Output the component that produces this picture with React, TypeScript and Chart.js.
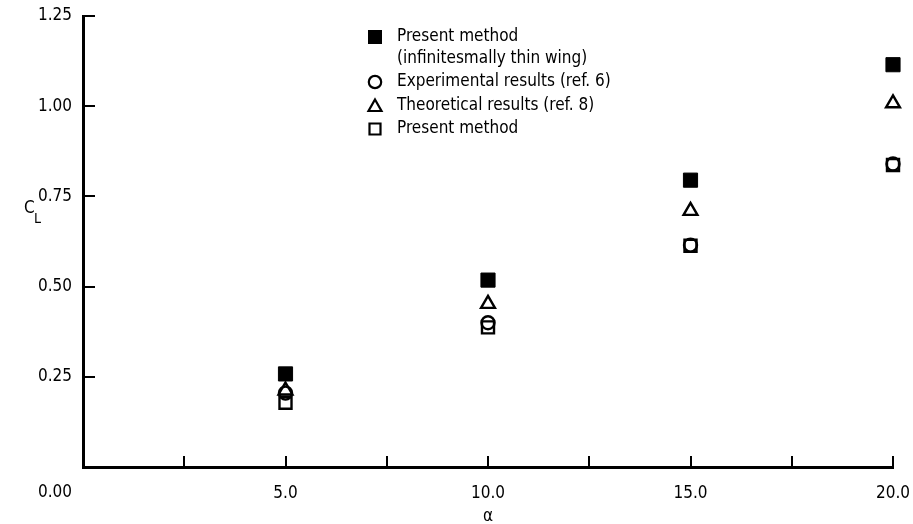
import { useEffect, useRef } from "react";
import { Chart, registerables } from "chart.js";

Chart.register(...registerables);

// ---- data ----
const alphaValues = [5, 10, 15, 20];
const presentThin = [0.258, 0.518, 0.795, 1.115];
const experimental = [0.205, 0.4, 0.615, 0.84];
const theoretical = [0.212, 0.452, 0.71, 1.008];
const presentMethod = [0.178, 0.387, 0.613, 0.837];

const xTickValues = [5, 10, 15, 20];
const xTickLabels = ["5.0", "10.0", "15.0", "20.0"];
const xMinorTicks = [2.5, 5, 7.5, 10, 12.5, 15, 17.5, 20];
const yTickValues = [0.25, 0.5, 0.75, 1.0, 1.25];
const yTickLabels = ["0.25", "0.50", "0.75", "1.00", "1.25"];
const originLabel = "0.00";

const legendEntries = [
  { style: "filledRect", lines: ["Present method", "(infinitesmally thin wing)"] },
  { style: "circle", lines: ["Experimental results (ref. 6)"] },
  { style: "triangle", lines: ["Theoretical results (ref. 8)"] },
  { style: "openRect", lines: ["Present method"] },
];

const FONT = "'DejaVu Sans Condensed', 'Liberation Sans Narrow', 'DejaVu Sans', sans-serif";

function drawMarker(ctx: CanvasRenderingContext2D, style: string, x: number, y: number) {
  ctx.save();
  ctx.strokeStyle = "#000";
  ctx.fillStyle = "#000";
  ctx.lineWidth = 2.2;
  ctx.beginPath();
  if (style === "filledRect") {
    ctx.rect(x - 7, y - 7, 14, 14);
    ctx.fill();
  } else if (style === "openRect") {
    ctx.rect(x - 5.5, y - 5.5, 11, 11);
    ctx.stroke();
  } else if (style === "circle") {
    ctx.arc(x, y, 6.2, 0, Math.PI * 2);
    ctx.stroke();
  } else if (style === "triangle") {
    ctx.moveTo(x, y - 6.5);
    ctx.lineTo(x + 6.5, y + 5);
    ctx.lineTo(x - 6.5, y + 5);
    ctx.closePath();
    ctx.stroke();
  }
  ctx.restore();
}

const decorPlugin = {
  id: "decor",
  afterDraw(chart: any) {
    const ctx: CanvasRenderingContext2D = chart.ctx;
    const xs = chart.scales.x;
    const ys = chart.scales.y;
    const area = chart.chartArea;
    ctx.save();
    ctx.strokeStyle = "#000";
    ctx.lineWidth = 2;
    // inward x ticks
    xMinorTicks.forEach((v) => {
      const px = Math.round(xs.getPixelForValue(v));
      ctx.beginPath();
      ctx.moveTo(px, area.bottom);
      ctx.lineTo(px, area.bottom - 11);
      ctx.stroke();
    });
    // inward y ticks
    yTickValues.forEach((v) => {
      const py = Math.round(ys.getPixelForValue(v));
      ctx.beginPath();
      ctx.moveTo(area.left, py);
      ctx.lineTo(area.left + 12, py);
      ctx.stroke();
    });
    // origin label
    ctx.fillStyle = "#000";
    ctx.font = `17px ${FONT}`;
    ctx.textAlign = "right";
    ctx.textBaseline = "middle";
    ctx.fillText(originLabel, area.left - 11, area.bottom + 26);
    // axis titles
    ctx.textAlign = "left";
    ctx.font = `17px ${FONT}`;
    ctx.fillText("C", 24, 209);
    ctx.font = `14px ${FONT}`;
    ctx.fillText("L", 34, 219);
    ctx.textAlign = "center";
    ctx.font = `17px ${FONT}`;
    ctx.fillText("α", xs.getPixelForValue(10), 517);
    // legend
    const lineYs = [[37, 59], [82], [106], [129]];
    legendEntries.forEach((e, i) => {
      drawMarker(ctx, e.style, 375, lineYs[i][0]);
      ctx.textAlign = "left";
      ctx.font = `17px ${FONT}`;
      e.lines.forEach((t, j) => {
        ctx.fillText(t, 397, lineYs[i][j]);
      });
    });
    ctx.restore();
  },
};

export default function App() {
  const ref = useRef<HTMLCanvasElement | null>(null);
  useEffect(() => {
    if (!ref.current) return;
    const mk = (data: number[]) => alphaValues.map((a, i) => ({ x: a, y: data[i] }));
    const chart = new Chart(ref.current, {
      type: "scatter",
      data: {
        datasets: [
          {
            label: "Present method (infinitesmally thin wing)",
            data: mk(presentThin),
            pointStyle: "rect",
            pointRadius: 10,
            backgroundColor: "#000",
            borderColor: "#000",
            borderWidth: 1,
            clip: false,
          },
          {
            label: "Experimental results (ref. 6)",
            data: mk(experimental),
            pointStyle: "circle",
            pointRadius: 6.5,
            backgroundColor: "rgba(0,0,0,0)",
            borderColor: "#000",
            borderWidth: 2.4,
            clip: false,
          },
          {
            label: "Theoretical results (ref. 8)",
            data: mk(theoretical),
            pointStyle: "triangle",
            pointRadius: 8,
            backgroundColor: "rgba(0,0,0,0)",
            borderColor: "#000",
            borderWidth: 2.4,
            clip: false,
          },
          {
            label: "Present method",
            data: mk(presentMethod),
            pointStyle: "rect",
            pointRadius: 8.5,
            backgroundColor: "rgba(0,0,0,0)",
            borderColor: "#000",
            borderWidth: 2.4,
            clip: false,
          },
        ],
      },
      options: {
        responsive: false,
        animation: false,
        layout: { padding: { top: 16, right: 20, left: 0, bottom: 0 } },
        plugins: { legend: { display: false }, tooltip: { enabled: false } },
        scales: {
          x: {
            type: "linear",
            min: 0,
            max: 20,
            afterFit: (s: any) => {
              s.height = 57;
              s.paddingLeft = 0;
              s.paddingRight = 0;
            },
            afterBuildTicks: (s: any) => {
              s.ticks = xTickValues.map((v) => ({ value: v }));
            },
            grid: { display: false, drawTicks: false },
            border: { display: true, color: "#000", width: 3 },
            ticks: {
              padding: 16,
              color: "#000",
              font: { family: FONT, size: 17 },
              callback: (v: any) => {
                const i = xTickValues.indexOf(Number(v));
                return i >= 0 ? xTickLabels[i] : "";
              },
            },
          },
          y: {
            type: "linear",
            min: 0,
            max: 1.25,
            afterFit: (s: any) => {
              s.width = 83;
              s.paddingTop = 0;
              s.paddingBottom = 0;
            },
            afterBuildTicks: (s: any) => {
              s.ticks = yTickValues.map((v) => ({ value: v }));
            },
            grid: { display: false, drawTicks: false },
            border: { display: true, color: "#000", width: 3 },
            ticks: {
              padding: 11,
              color: "#000",
              font: { family: FONT, size: 17 },
              callback: (v: any) => {
                const i = yTickValues.findIndex((t) => Math.abs(t - Number(v)) < 1e-9);
                return i >= 0 ? yTickLabels[i] : "";
              },
            },
          },
        },
      },
      plugins: [decorPlugin],
    });
    return () => chart.destroy();
  }, []);
  return (
    <div style={{ position: "fixed", left: 0, top: 0, width: 913, height: 524, background: "#fff" }}>
      <canvas ref={ref} width={913} height={524} />
    </div>
  );
}
